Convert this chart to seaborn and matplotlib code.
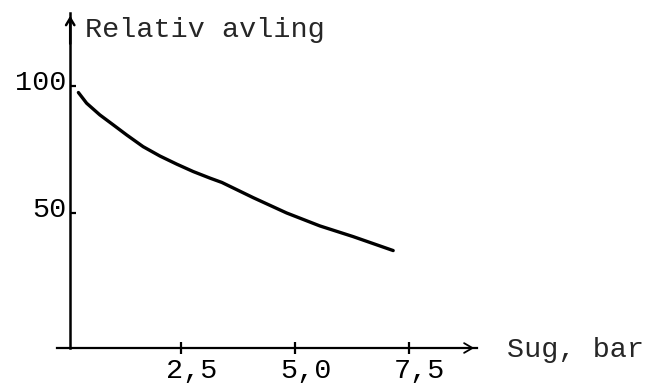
import seaborn as sns
import matplotlib.pyplot as plt
import matplotlib.transforms as mtransforms
import pandas as pd

# Values
sug_bar = [0.25, 0.43, 0.72, 1.02, 1.31, 1.67, 2.04, 2.41, 2.77, 3.14,
           3.40, 4.09, 4.82, 5.55, 6.28, 7.16]
rel_avling = [97.4, 93.2, 88.6, 84.6, 80.7, 76.1, 72.4, 69.2, 66.3, 63.7,
              62.0, 56.0, 50.0, 44.9, 40.7, 35.2]
x_ticks = [2.5, 5.0, 7.5]
x_ticklabels = ['2,5', '5,0', '7,5']
y_ticks = [50, 100]
y_ticklabels = ['50', '100']

df = pd.DataFrame({'sug': sug_bar, 'avling': rel_avling})

sns.set_style('white')
plt.rcParams['font.family'] = ['Liberation Mono', 'DejaVu Sans']

fig = plt.figure(figsize=(6.58, 3.89), dpi=100)
ax = fig.add_axes([57 / 658, 41 / 389, 420 / 658, 335 / 389])

sns.lineplot(x='sug', y='avling', data=df, color='black', linewidth=2.4, ax=ax)

ax.set_xlim(-0.22, 9.0)
ax.set_ylim(-3.15, 128.7)

# axis lines
for s in ['top', 'right']:
    ax.spines[s].set_visible(False)
ax.spines['left'].set_position(('data', 0.07))
ax.spines['left'].set_linewidth(1.8)
ax.spines['bottom'].set_linewidth(1.6)
for s in ['left', 'bottom']:
    ax.spines[s].set_color('black')

# arrow heads
ax.annotate('', xy=(0.07, 1.0), xytext=(0.07, 0.9),
            xycoords=('data', 'axes fraction'),
            arrowprops=dict(arrowstyle='->,head_length=0.5,head_width=0.3',
                            color='black', lw=1.8))
ax.annotate('', xy=(1.0, 0.0), xytext=(0.95, 0.0),
            xycoords='axes fraction',
            arrowprops=dict(arrowstyle='->,head_length=0.6,head_width=0.35',
                            color='black', lw=1.3))

ax.set_xticks(x_ticks)
ax.set_xticklabels(x_ticklabels, fontsize=20.5)
ax.set_yticks(y_ticks)
ax.set_yticklabels(y_ticklabels, fontsize=20.5)
ax.tick_params(axis='x', bottom=True, direction='inout', length=9, width=1.6,
               pad=3, colors='black')
ax.tick_params(axis='y', left=True, direction='in', length=4, width=1.6,
               pad=3, colors='black')

# shift labels like on the typed original
dx = mtransforms.ScaledTranslation(11 / 100, 0, fig.dpi_scale_trans)
for lbl in ax.get_xticklabels():
    lbl.set_transform(lbl.get_transform() + dx)
dy = mtransforms.ScaledTranslation(0, 6 / 100, fig.dpi_scale_trans)
for lbl in ax.get_yticklabels():
    lbl.set_transform(lbl.get_transform() + dy)

ax.set_xlabel('')
ax.set_ylabel('')
ax.text(0.39, 122, 'Relativ avling', fontsize=20.5, ha='left', va='center')
ax.text(9.65, -3.9, 'Sug, bar', fontsize=20.5, ha='left', va='center', clip_on=False)

fig.savefig('out.png', dpi=100)
